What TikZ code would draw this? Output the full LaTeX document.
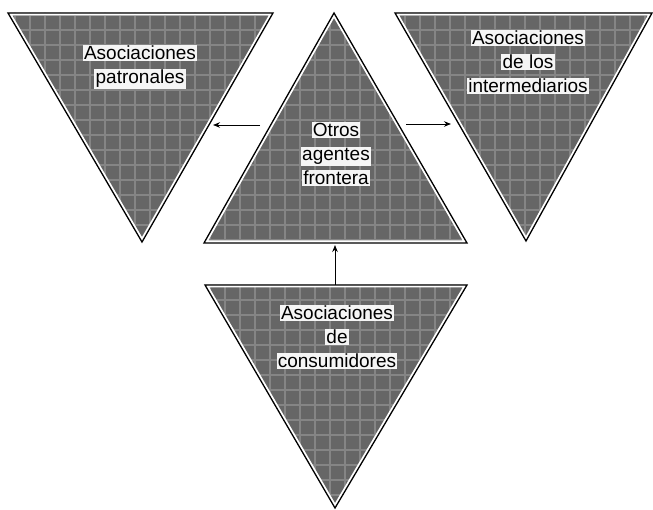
\documentclass[tikz,border=0pt]{standalone}
\usepackage{fontspec}
\setmainfont{Liberation Sans}
\usetikzlibrary{arrows.meta}
\definecolor{trifill}{gray}{0.40}
\definecolor{trigrid}{gray}{0.52}
\definecolor{halo}{gray}{0.96}
\tikzset{
  lbl/.style={align=center, font=\fontsize{19}{24}\selectfont, inner sep=0pt},
  arr/.style={-{Stealth[length=7pt,width=5.5pt]}, line width=0.9pt},
}
\newcommand\mytri[3]{%
  \fill[trifill] #1--#2--#3--cycle;
  \begin{scope}
    \clip #1--#2--#3--cycle;
    \draw[trigrid, line width=1.8pt, step=15pt] (0,0) grid (653,510);
    \draw[white, line width=5pt] #1--#2--#3--cycle;
  \end{scope}
  \draw[line width=1.3pt, line join=miter] #1--#2--#3--cycle;
}
\newcommand\hl[1]{{\setlength\fboxsep{1.2pt}\colorbox{halo}{#1}}}
\begin{document}
\begin{tikzpicture}[x=1pt,y=-1pt]
  \useasboundingbox (0,0) rectangle (653,510);
  % left triangle
  \coordinate (L1) at (8,13);  \coordinate (L2) at (273,13);  \coordinate (L3) at (142,242);
  % center triangle
  \coordinate (C1) at (334,13); \coordinate (C2) at (204,243); \coordinate (C3) at (467,243);
  % right triangle
  \coordinate (R1) at (395,13); \coordinate (R2) at (652,13); \coordinate (R3) at (526,241);
  % bottom triangle
  \coordinate (B1) at (205,285); \coordinate (B2) at (467,285); \coordinate (B3) at (335,508);
  \mytri{(L1)}{(L2)}{(L3)}
  \mytri{(C1)}{(C2)}{(C3)}
  \mytri{(R1)}{(R2)}{(R3)}
  \mytri{(B1)}{(B2)}{(B3)}

  \node[lbl] (tl) at (140,67) {\hl{Asociaciones}\\\hl{patronales}};
  \node[lbl] (tr) at (528,62) {\hl{Asociaciones}\\\hl{de los}\\\hl{intermediarios}};
  \node[lbl] (tc) at (336,154) {\hl{Otros}\\\hl{agentes}\\\hl{frontera}};
  \node[lbl] (tb) at (337,337) {\hl{Asociaciones}\\\hl{de}\\\hl{consumidores}};

  \coordinate (aLs) at (260,125); \coordinate (aLe) at (213,125);
  \coordinate (aRs) at (406,124); \coordinate (aRe) at (451,124);
  \coordinate (aUs) at (335,285); \coordinate (aUe) at (335,245);
  \draw[arr] (aLs) -- (aLe);
  \draw[arr] (aRs) -- (aRe);
  \draw[arr] (aUs) -- (aUe);
\end{tikzpicture}
\end{document}
